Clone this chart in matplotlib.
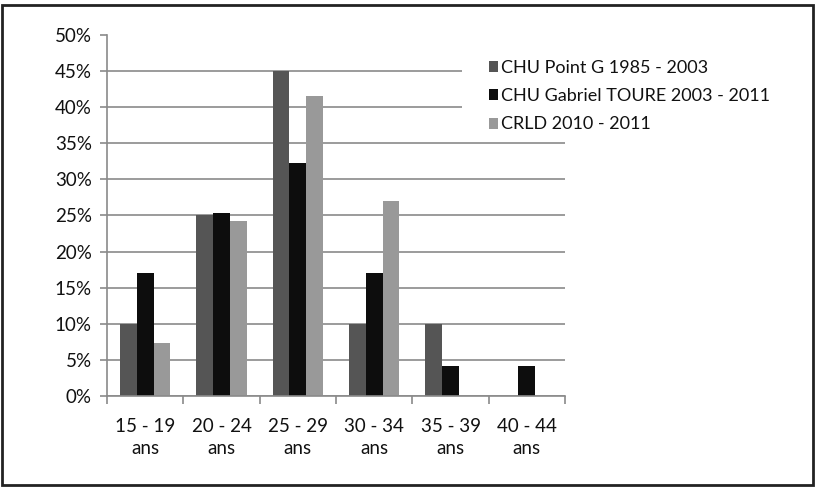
import matplotlib
matplotlib.use("Agg")
import matplotlib.pyplot as plt
import numpy as np
from matplotlib.patches import Rectangle
from matplotlib.ticker import FixedLocator, PercentFormatter

categories = ["15 - 19\nans", "20 - 24\nans", "25 - 29\nans", "30 - 34\nans", "35 - 39\nans", "40 - 44\nans"]
series_names = ["CHU Point G 1985 - 2003", "CHU Gabriel TOURE 2003 - 2011", "CRLD 2010 - 2011"]
point_g = [10, 25, 45, 10, 10, 0]
gabriel = [17, 25.4, 32.3, 17, 4.2, 4.2]
crld = [7.3, 24.3, 41.5, 27, 0, 0]
colors = ["#555555", "#0d0d0d", "#999999"]

plt.rcParams['font.family'] = ['Lato', 'DejaVu Sans']
plt.rcParams['text.color'] = '#111111'
plt.rcParams['xtick.labelcolor'] = '#111111'
plt.rcParams['ytick.labelcolor'] = '#111111'

fig = plt.figure(figsize=(8.15, 4.87), dpi=100)
ax = fig.add_axes([0.1313, 0.1869, 0.5620, 0.7413])

x = np.arange(len(categories))
w = 0.22
for i, (vals, name, c) in enumerate(zip([point_g, gabriel, crld], series_names, colors)):
    ax.bar(x + (i - 1) * w, vals, width=w, color=c, label=name, zorder=2)

ax.set_xlim(-0.5, len(categories) - 0.5)
ax.set_ylim(0, 50)
ax.set_yticks(np.arange(0, 51, 5))
ax.yaxis.set_major_formatter(PercentFormatter(decimals=0))
ax.set_axisbelow(True)
ax.grid(axis='y', color='#8a8a8a', linewidth=1.2)
ax.yaxis.get_gridlines()[-1].set_visible(False)

ax.set_xticks(x)
ax.set_xticklabels(categories, linespacing=1.35)
ax.xaxis.set_minor_locator(FixedLocator(np.arange(-0.5, len(categories), 1)))
ax.tick_params(axis='x', which='major', length=0, pad=16, labelsize=13.5)
ax.tick_params(axis='x', which='minor', length=6, color='#8a8a8a', width=1.2)
ax.tick_params(axis='y', length=5, color='#8a8a8a', width=1.2, labelsize=13.5, pad=6)

for s in ['top', 'right']:
    ax.spines[s].set_visible(False)
for s in ['left', 'bottom']:
    ax.spines[s].set_color('#8a8a8a')
    ax.spines[s].set_linewidth(1.2)

ax.axhspan(37, 48.5, xmin=0.775, xmax=1.0, color='white', zorder=1, linewidth=0)

leg = ax.legend(loc='upper left', bbox_to_anchor=(0.600, 0.877), bbox_transform=fig.transFigure,
                frameon=False, fontsize=13, handlelength=0.52, handleheight=0.57,
                handletextpad=0.15, labelspacing=0.68, borderaxespad=0, borderpad=0)

fig.patches.append(Rectangle((0.003, 0.004), 0.994, 0.986, transform=fig.transFigure,
                             fill=False, edgecolor='#222222', linewidth=2.0))

fig.savefig("out.png", dpi=100)
